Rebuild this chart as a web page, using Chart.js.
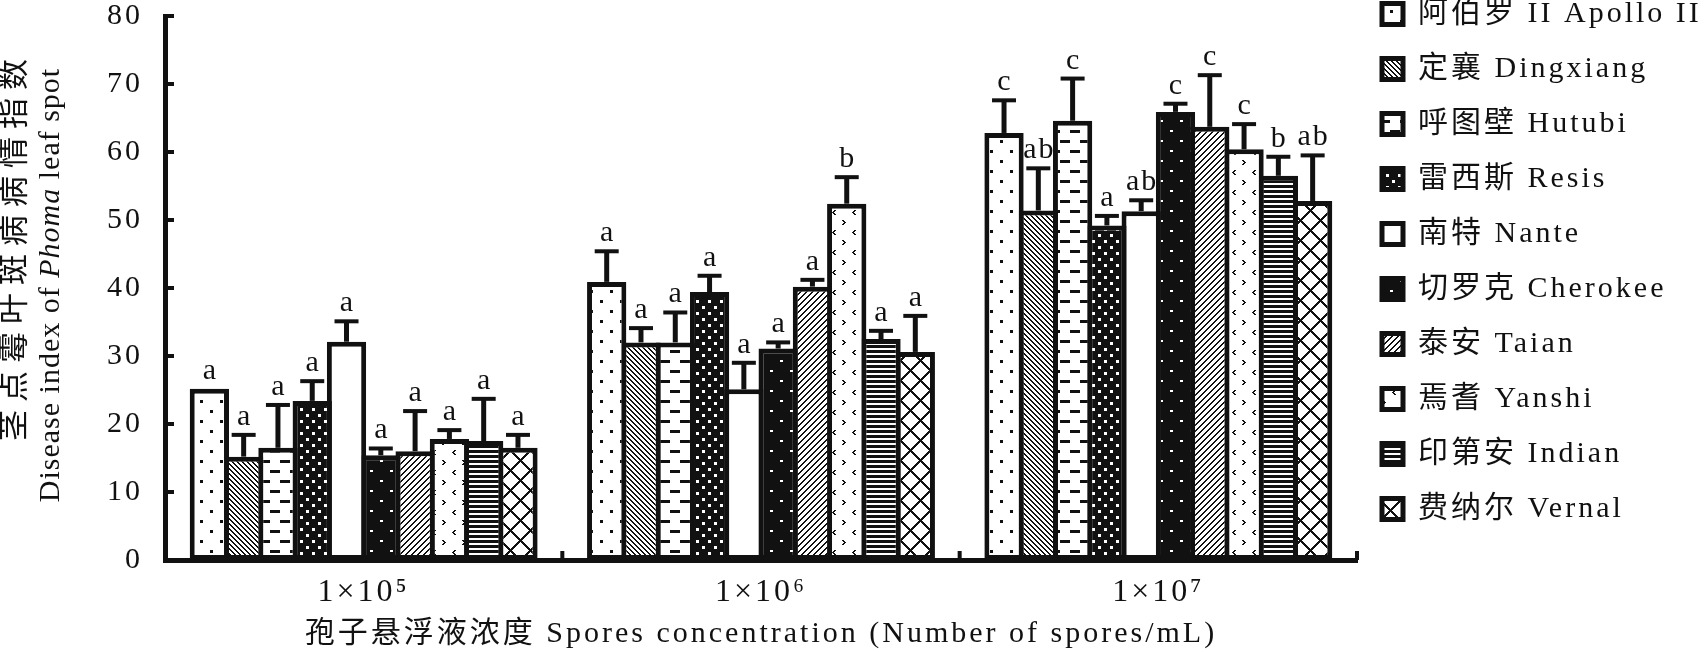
<!DOCTYPE html>
<html>
<head>
<meta charset="utf-8">
<script src="https://cdn.jsdelivr.net/npm/chart.js@4.4.1/dist/chart.umd.min.js"></script>
<style>
  html, body { margin: 0; padding: 0; background: #fff; overflow: hidden; }
  #wrap { position: absolute; left: 0; top: 0; width: 1707px; height: 652px; }
</style>
</head>
<body>
<div id="wrap"><canvas id="chart"></canvas></div>
<script>
// categories and cultivars
const categories = ['1×10⁵', '1×10⁶', '1×10⁷'];
const cultivars = ['阿伯罗 II Apollo II', '定襄 Dingxiang', '呼图壁 Hutubi', '雷西斯 Resis', '南特 Nante',
    '切罗克 Cherokee', '泰安 Taian', '焉耆 Yanshi', '印第安 Indian', '费纳尔 Vernal'];

// disease index (mean) per concentration, in cultivar order
const mean1e5 = [25.2, 15.2, 16.5, 23.4, 32.1, 15.4, 16.0, 17.8, 17.5, 16.5];
const mean1e6 = [40.9, 32.0, 32.0, 39.4, 25.1, 31.1, 40.2, 52.4, 32.5, 30.6];
const mean1e7 = [62.8, 51.4, 64.6, 49.2, 51.3, 65.9, 63.7, 60.4, 56.5, 52.8];

// error bar (upper) per concentration
const err1e5 = [0, 3.2, 6.3, 2.9, 3.0, 1.0, 5.9, 1.3, 6.2, 1.9];
const err1e6 = [4.5, 2.1, 4.4, 2.4, 3.9, 0.9, 1.0, 3.9, 1.2, 5.3];
const err1e7 = [4.8, 6.2, 6.2, 1.4, 1.6, 1.2, 7.6, 3.7, 2.8, 6.7];

// significance letters
const sig1e5 = ['a', 'a', 'a', 'a', 'a', 'a', 'a', 'a', 'a', 'a'];
const sig1e6 = ['a', 'a', 'a', 'a', 'a', 'a', 'a', 'b', 'a', 'a'];
const sig1e7 = ['c', 'ab', 'c', 'a', 'ab', 'c', 'c', 'c', 'b', 'ab'];

const yTicks = [0, 10, 20, 30, 40, 50, 60, 70, 80];

const FONT = "'Liberation Serif', 'Noto Sans CJK SC', serif";

const canvas = document.getElementById('chart');
const ctx0 = canvas.getContext('2d');

// little bitmap tiles for the hatch fills
function tile(w, h, dark, paint) {
    const c = document.createElement('canvas');
    c.width = w; c.height = h;
    const g = c.getContext('2d');
    g.fillStyle = dark ? '#111' : '#fff';
    g.fillRect(0, 0, w, h);
    g.fillStyle = dark ? '#fff' : '#111';
    paint(g, w, h);
    return ctx0.createPattern(c, 'repeat');
}

const fills = [
    tile(20, 20, false, g => { g.fillRect(0, 0, 3, 3); g.fillRect(10, 10, 3, 3); }),
    tile(5, 5, false, g => { for (let i = 0; i < 5; i++) { g.fillRect(i, i, 1, 1); g.fillRect((i + 1) % 5, i, 1, 1); } }),
    tile(20, 20, false, g => { g.fillRect(0, 0, 10, 3); g.fillRect(10, 10, 10, 3); }),
    tile(12, 12, true, g => { g.fillRect(0, 0, 3, 3); g.fillRect(6, 6, 3, 3); }),
    '#fff',
    tile(20, 20, true, g => { g.fillRect(0, 0, 3, 2); g.fillRect(10, 10, 3, 2); }),
    tile(6, 6, false, g => { for (let i = 0; i < 6; i++) { g.fillRect(5 - i, i, 1, 1); g.fillRect((6 - i) % 6, i, 1, 1); } }),
    tile(20, 20, false, g => {
        [[0, 0], [1, 1], [2, 2], [1, 3], [0, 4]].forEach(p => g.fillRect(p[0] + 2, p[1], 2, 1));
        [[2, 0], [1, 1], [0, 2], [1, 3], [2, 4]].forEach(p => g.fillRect(p[0] + 12, p[1] + 10, 2, 1));
    }),
    tile(4, 5, false, g => { g.fillRect(0, 0, 4, 3); }),
    tile(20, 20, false, g => { for (let i = 0; i < 20; i++) { g.fillRect(i, i, 2, 2); g.fillRect(19 - i, i, 2, 2); } })
];

const datasets = cultivars.map((name, i) => ({
    label: name,
    data: [mean1e5[i], mean1e6[i], mean1e7[i]],
    err: [err1e5[i], err1e6[i], err1e7[i]],
    sig: [sig1e5[i], sig1e6[i], sig1e7[i]],
    backgroundColor: fills[i],
    borderColor: '#111',
    borderWidth: 5,
    borderSkipped: false
}));

// wide letter spacing like the printed figure
const spacing = {
    id: 'spacing',
    beforeUpdate(chart) { chart.ctx.letterSpacing = '3px'; },
    beforeDraw(chart) { chart.ctx.letterSpacing = '3px'; }
};

// upward error bars and letters
const errorBars = {
    id: 'errorBars',
    afterDatasetsDraw(chart) {
        const ctx = chart.ctx;
        const y = chart.scales.y;
        ctx.save();
        ctx.strokeStyle = '#111';
        ctx.fillStyle = '#111';
        ctx.font = '30px ' + FONT;
        ctx.letterSpacing = '2px';
        ctx.textAlign = 'center';
        ctx.textBaseline = 'alphabetic';
        chart.data.datasets.forEach((ds, i) => {
            chart.getDatasetMeta(i).data.forEach((bar, j) => {
                const v = ds.data[j];
                const top = y.getPixelForValue(v + ds.err[j]);
                if (ds.err[j] > 0) {
                    ctx.beginPath();
                    ctx.lineWidth = 5;
                    ctx.moveTo(bar.x, bar.y);
                    ctx.lineTo(bar.x, top);
                    ctx.stroke();
                    ctx.beginPath();
                    ctx.lineWidth = 4;
                    ctx.moveTo(bar.x - 12, top);
                    ctx.lineTo(bar.x + 12, top);
                    ctx.stroke();
                }
                ctx.fillText(ds.sig[j], bar.x + 1, top - 10);
            });
        });
        ctx.restore();
    }
};

// inward tick marks and the two-line y title
const axisDecor = {
    id: 'axisDecor',
    afterDraw(chart) {
        const ctx = chart.ctx;
        const y = chart.scales.y;
        const area = chart.chartArea;
        ctx.save();
        ctx.strokeStyle = '#111';
        ctx.lineWidth = 4;
        ctx.beginPath();
        yTicks.forEach(t => {
            const py = y.getPixelForValue(t);
            ctx.moveTo(area.left, py);
            ctx.lineTo(area.left + 9, py);
        });
        const step = (area.right - area.left) / categories.length;
        for (let k = 1; k <= categories.length; k++) {
            const px = area.left + k * step;
            ctx.moveTo(px, area.bottom);
            ctx.lineTo(px, area.bottom - 9);
        }
        ctx.stroke();

        ctx.fillStyle = '#111';
        ctx.textBaseline = 'middle';

        // chinese line
        ctx.save();
        ctx.translate(area.left - 149, area.top + 234);
        ctx.rotate(-Math.PI / 2);
        ctx.font = '31px ' + FONT;
        ctx.letterSpacing = '8px';
        ctx.textAlign = 'center';
        ctx.fillText('茎点霉叶斑病病情指数', 4, 0);
        ctx.restore();

        // english line with italic genus
        ctx.save();
        ctx.translate(area.left - 114, area.top + 269);
        ctx.rotate(-Math.PI / 2);
        ctx.letterSpacing = '1px';
        const parts = [['Disease index of ', ''], ['Phoma', 'italic '], [' leaf spot', '']];
        let total = 0;
        parts.forEach(p => { ctx.font = p[1] + '30px ' + FONT; total += ctx.measureText(p[0]).width; });
        let cx = -total / 2;
        ctx.textAlign = 'left';
        parts.forEach(p => {
            ctx.font = p[1] + '30px ' + FONT;
            ctx.fillText(p[0], cx, 0);
            cx += ctx.measureText(p[0]).width;
        });
        ctx.restore();
        ctx.restore();
    }
};

new Chart(canvas, {
    type: 'bar',
    data: { labels: categories, datasets: datasets },
    options: {
        responsive: true,
        maintainAspectRatio: false,
        animation: false,
        layout: { padding: { left: 90, top: -26, right: 0, bottom: 0 } },
        datasets: { bar: { categoryPercentage: 0.863, barPercentage: 1.146 } },
        plugins: {
            legend: {
                position: 'right',
                align: 'start',
                maxWidth: 350,
                labels: {
                    color: '#111',
                    font: { family: FONT, size: 30 },
                    boxWidth: 21,
                    boxHeight: 21,
                    padding: 25
                }
            },
            tooltip: { enabled: false }
        },
        scales: {
            x: {
                grid: { display: false, drawTicks: false },
                border: { color: '#111', width: 5 },
                ticks: { color: '#111', font: { family: FONT, size: 32 }, padding: 13 },
                title: {
                    display: true,
                    text: '孢子悬浮液浓度 Spores concentration (Number of spores/mL)',
                    color: '#111',
                    font: { family: FONT, size: 30 },
                    padding: { top: 0, bottom: 0 }
                },
                afterFit(scale) { scale.height = 92; }
            },
            y: {
                min: 0,
                max: 80,
                grid: { display: false, drawTicks: false },
                border: { color: '#111', width: 5 },
                ticks: { stepSize: 10, color: '#111', font: { family: FONT, size: 30 }, padding: 22 },
                afterFit(scale) {
                    scale.width = 75;
                    scale.paddingTop = 16;
                    scale.paddingBottom = 0;
                }
            }
        }
    },
    plugins: [spacing, errorBars, axisDecor]
});
</script>
</body>
</html>
